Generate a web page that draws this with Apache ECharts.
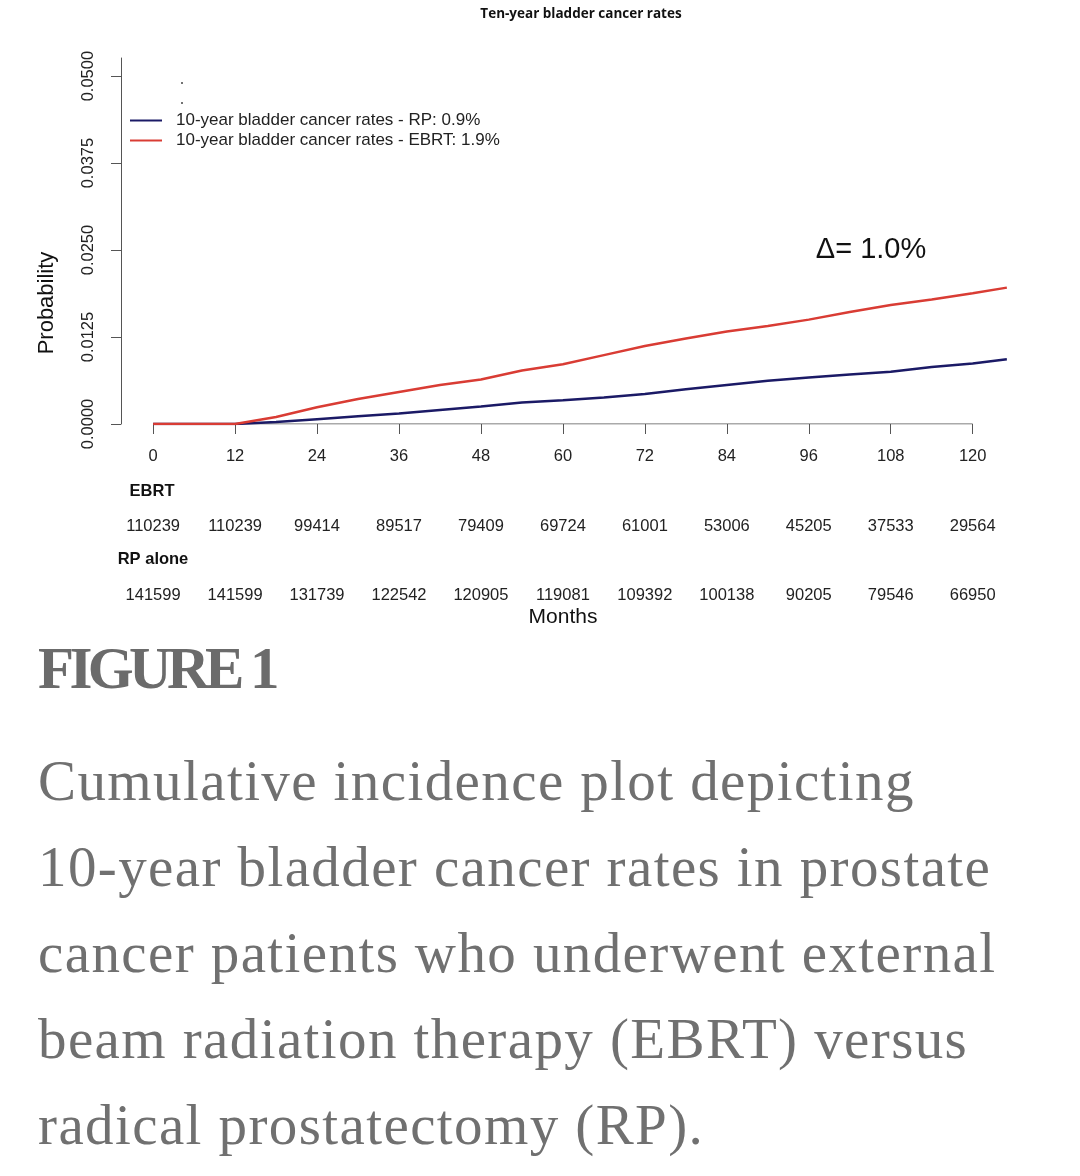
<!DOCTYPE html>
<html>
<head>
<meta charset="utf-8">
<script src="https://cdn.jsdelivr.net/npm/echarts@6/dist/echarts.min.js"></script>
<style>
  html, body { margin: 0; padding: 0; background: #fff; }
  #chart { position: absolute; left: 0; top: 0; width: 1080px; height: 640px; }
  .fig { position: absolute; left: 38px; top: 632px; font-family: "Liberation Serif", serif;
         font-weight: bold; font-size: 59px; letter-spacing: -4.6px; color: #6b6b6b; line-height: 72px; }
  .cap { position: absolute; left: 38px; top: 738px; font-family: "Liberation Serif", serif;
         font-size: 57px; letter-spacing: 1.4px; color: #707070; line-height: 86px; white-space: nowrap; }
</style>
</head>
<body>
<div id="chart"></div>
<div class="fig">FIGURE 1</div>
<div class="cap" id="cap"></div>
<script>
// 数据
var months = [0, 6, 12, 18, 24, 30, 36, 42, 48, 54, 60, 66, 72, 78, 84, 90, 96, 102, 108, 114, 120, 125];
var ebrtRate = [0, 0, 0, 0.0010, 0.0024, 0.0036, 0.0046, 0.0056, 0.0064, 0.0077, 0.0086, 0.0099, 0.0112, 0.0123, 0.0133, 0.0141, 0.0150, 0.0161, 0.0171, 0.0179, 0.0188, 0.0196];
var rpRate = [0, 0, 0, 0.0003, 0.0007, 0.0011, 0.0015, 0.0020, 0.0025, 0.0031, 0.0034, 0.0038, 0.0043, 0.0050, 0.0056, 0.0062, 0.0067, 0.0071, 0.0075, 0.0082, 0.0087, 0.0093];
var xTicks = [0, 12, 24, 36, 48, 60, 72, 84, 96, 108, 120];
var yTicks = [0, 0.0125, 0.025, 0.0375, 0.05];
var riskEBRT = [110239, 110239, 99414, 89517, 79409, 69724, 61001, 53006, 45205, 37533, 29564];
var riskRP = [141599, 141599, 131739, 122542, 120905, 119081, 109392, 100138, 90205, 79546, 66950];
var nameRP = '10-year bladder cancer rates - RP: 0.9%';
var nameEBRT = '10-year bladder cancer rates - EBRT: 1.9%';
var captionLines = [
    'Cumulative incidence plot depicting',
    '10-year bladder cancer rates in prostate',
    'cancer patients who underwent external',
    'beam radiation therapy (EBRT) versus',
    'radical prostatectomy (RP).'
];

document.getElementById('cap').innerHTML = captionLines.join('<br>');

(function () {
    var myChart = echarts.init(document.getElementById('chart'));
    var font = 'Liberation Sans, Arial, sans-serif';
    var axisColor = '#555';

    function pairs(ys) {
        return months.map(function (m, i) { return [m, ys[i]]; });
    }
    function riskAxis(offset, list) {
        return {
            type: 'value', min: -4.7, max: 130, position: 'bottom', offset: offset,
            axisLine: { show: false, onZero: false }, axisTick: { show: false }, splitLine: { show: false },
            axisLabel: {
                customValues: xTicks, margin: 24, color: '#222', fontFamily: font, fontSize: 16.5,
                formatter: function (v) { return String(list[Math.round(v / 12)]); }
            }
        };
    }

    var option = {
        animation: false,
        grid: { left: 121, top: 58, width: 920, height: 366 },
        legend: {
            data: [nameRP, nameEBRT],
            orient: 'vertical', left: 125, top: 107, itemGap: 3,
            itemWidth: 32, itemHeight: 2, icon: 'rect',
            textStyle: { fontFamily: font, fontSize: 17, color: '#222', padding: [0, 0, 0, 9] }
        },
        xAxis: [
            {
                type: 'value', min: -4.7, max: 130,
                axisLine: { show: false, onZero: false },
                axisTick: { show: true, customValues: xTicks, length: 10, lineStyle: { color: axisColor } },
                axisLabel: { customValues: xTicks, margin: 24, color: '#222', fontFamily: font, fontSize: 16.5 },
                splitLine: { show: false }
            },
            riskAxis(70, riskEBRT),
            riskAxis(139, riskRP)
        ],
        yAxis: {
            type: 'value', min: 0, max: 0.0526,
            axisLine: { show: true, onZero: false, lineStyle: { color: axisColor } },
            axisTick: { show: true, customValues: yTicks, length: 10, lineStyle: { color: axisColor } },
            axisLabel: {
                customValues: yTicks, rotate: 90, margin: 24, color: '#222', fontFamily: font, fontSize: 16.5,
                formatter: function (v) { return v.toFixed(4); }
            },
            splitLine: { show: false }
        },
        graphic: [
            { type: 'text', x: 581, y: 14, style: { text: 'Ten-year bladder cancer rates', fill: '#111', font: 'bold 13.5px "Open Sans", sans-serif', align: 'center', verticalAlign: 'middle' } },
            { type: 'text', x: 871, y: 250, style: { text: 'Δ= 1.0%', fill: '#111', font: '29px ' + font, align: 'center', verticalAlign: 'middle' } },
            { type: 'text', x: 47, y: 303, rotation: Math.PI / 2, style: { text: 'Probability', fill: '#111', font: '22px ' + font, align: 'center', verticalAlign: 'middle' } },
            { type: 'text', x: 563, y: 617, style: { text: 'Months', fill: '#111', font: '21px ' + font, align: 'center', verticalAlign: 'middle' } },
            { type: 'text', x: 152, y: 491, style: { text: 'EBRT', fill: '#111', font: 'bold 16.5px ' + font, align: 'center', verticalAlign: 'middle' } },
            { type: 'text', x: 153, y: 559, style: { text: 'RP alone', fill: '#111', font: 'bold 16.5px ' + font, align: 'center', verticalAlign: 'middle' } },
            { type: 'circle', shape: { cx: 182, cy: 83, r: 1 }, style: { fill: '#444' } },
            { type: 'circle', shape: { cx: 182, cy: 103, r: 1 }, style: { fill: '#444' } }
        ],
        series: [
            {
                name: 'axis', type: 'line', silent: true, symbol: 'none',
                data: [[0, 0], [120, 0]],
                lineStyle: { color: axisColor, width: 1 }
            },
            {
                name: nameRP, type: 'line', symbol: 'none', data: pairs(rpRate),
                itemStyle: { color: '#1b1a66' }, lineStyle: { color: '#1b1a66', width: 2.5 }
            },
            {
                name: nameEBRT, type: 'line', symbol: 'none', data: pairs(ebrtRate),
                itemStyle: { color: '#d93c34' }, lineStyle: { color: '#d93c34', width: 2.5 }
            }
        ]
    };
    myChart.setOption(option);
})();
</script>
</body>
</html>
